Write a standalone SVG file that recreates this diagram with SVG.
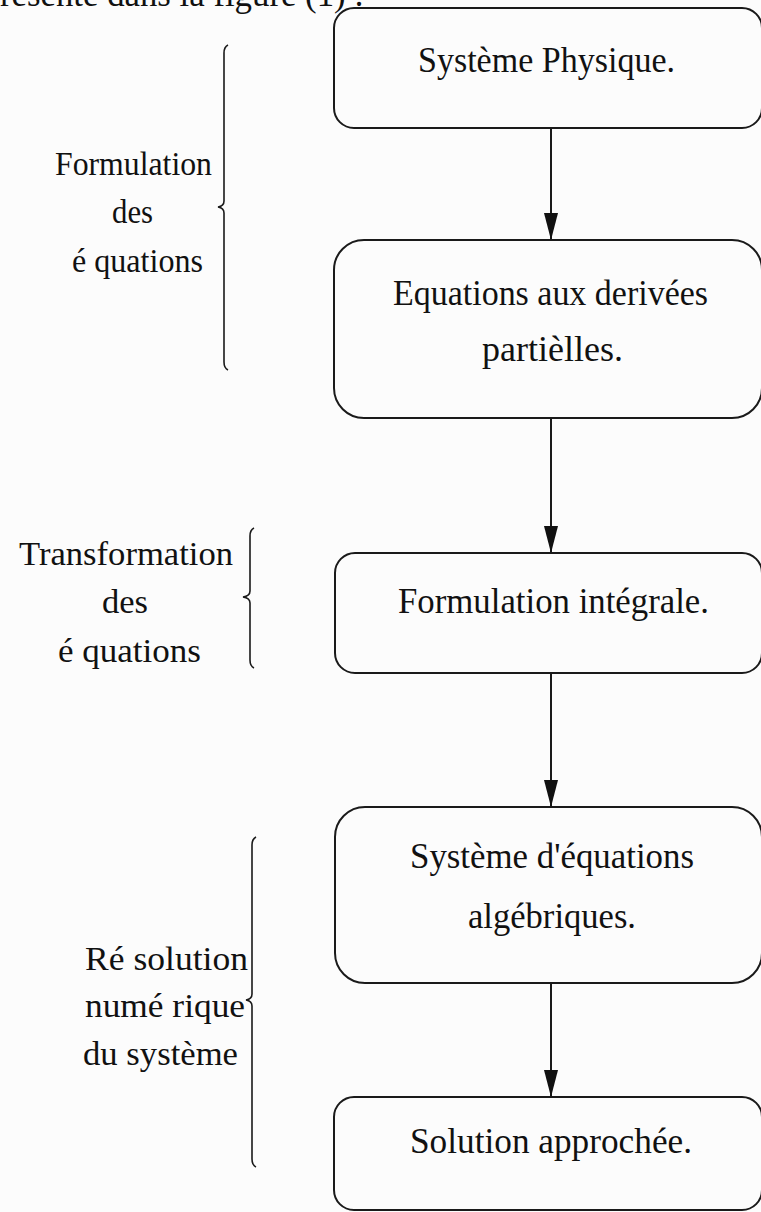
<svg xmlns="http://www.w3.org/2000/svg" width="761" height="1212" viewBox="0 0 761 1212">
  <defs>
    <style>
      .box { fill: none; stroke: #1a1a1a; stroke-width: 2; }
      .conn { fill: none; stroke: #1a1a1a; stroke-width: 2; }
      .brace { fill: none; stroke: #1a1a1a; stroke-width: 1.6; }
      .t { font-family: "Liberation Serif", "Times New Roman", serif; font-size: 36px; fill: #111; }
      .l { font-family: "Liberation Serif", "Times New Roman", serif; font-size: 33px; fill: #111; }
    </style>
    <marker id="arrow" markerUnits="userSpaceOnUse" markerWidth="28" markerHeight="16" viewBox="0 0 28 16" refX="27" refY="8" orient="auto">
      <path d="M0,1 L27,8 L0,15 Z" fill="#111"/>
    </marker>
  </defs>
  <rect x="0" y="0" width="761" height="1212" fill="#fcfcfc"/>

  <text id="top-text" class="t" x="0" y="6" textLength="364" lengthAdjust="spacingAndGlyphs">résente dans la figure (1) :</text>

  <g id="node-systeme-physique">
    <rect class="box" x="334" y="8" width="428" height="120" rx="20" ry="20"/>
    <text class="t" x="418" y="72" textLength="257" lengthAdjust="spacingAndGlyphs">Système Physique.</text>
  </g>

  <g id="node-edp">
    <rect class="box" x="334" y="240" width="428" height="178" rx="30" ry="30"/>
    <text class="t" x="393" y="305" textLength="315" lengthAdjust="spacingAndGlyphs">Equations aux derivées</text>
    <text class="t" x="482" y="361" textLength="141" lengthAdjust="spacingAndGlyphs">partièlles.</text>
  </g>

  <g id="node-formulation-integrale">
    <rect class="box" x="335" y="553" width="427" height="120" rx="20" ry="20"/>
    <text class="t" x="398" y="613" textLength="311" lengthAdjust="spacingAndGlyphs">Formulation intégrale.</text>
  </g>

  <g id="node-systeme-algebrique">
    <rect class="box" x="335" y="807" width="427" height="176" rx="30" ry="30"/>
    <text class="t" x="410" y="868" textLength="284" lengthAdjust="spacingAndGlyphs">Système d'équations</text>
    <text class="t" x="468" y="928" textLength="168" lengthAdjust="spacingAndGlyphs">algébriques.</text>
  </g>

  <g id="node-solution-approchee">
    <rect class="box" x="334" y="1097" width="428" height="113" rx="20" ry="20"/>
    <text class="t" x="410" y="1153" textLength="282" lengthAdjust="spacingAndGlyphs">Solution approchée.</text>
  </g>

  <g id="connectors">
    <line class="conn" x1="551" y1="128" x2="551" y2="240" marker-end="url(#arrow)"/>
    <line class="conn" x1="551" y1="418" x2="551" y2="553" marker-end="url(#arrow)"/>
    <line class="conn" x1="551" y1="673" x2="551" y2="807" marker-end="url(#arrow)"/>
    <line class="conn" x1="551" y1="983" x2="551" y2="1097" marker-end="url(#arrow)"/>
  </g>

  <g id="label-formulation">
    <path class="brace" d="M228,45 Q224,47 224,53 L224,201 Q224,206 218,207 Q224,208 224,213 L224,362 Q224,368 228,370"/>
    <text class="l" x="55" y="175" textLength="157" lengthAdjust="spacingAndGlyphs">Formulation</text>
    <text class="l" x="112" y="223" textLength="41" lengthAdjust="spacingAndGlyphs">des</text>
    <text class="l" x="72" y="272" textLength="131" lengthAdjust="spacingAndGlyphs">é quations</text>
  </g>

  <g id="label-transformation">
    <path class="brace" d="M254,528 Q250,530 250,536 L250,591 Q250,596 243,597 Q250,598 250,603 L250,660 Q250,666 254,668"/>
    <text class="l" x="19" y="565" textLength="214" lengthAdjust="spacingAndGlyphs">Transformation</text>
    <text class="l" x="102" y="613" textLength="46" lengthAdjust="spacingAndGlyphs">des</text>
    <text class="l" x="58" y="662" textLength="143" lengthAdjust="spacingAndGlyphs">é quations</text>
  </g>

  <g id="label-resolution">
    <path class="brace" d="M256,837 Q252,839 252,845 L252,994 Q252,999 246,1000 Q252,1001 252,1006 L252,1159 Q252,1165 256,1167"/>
    <text class="l" x="85" y="970" textLength="163" lengthAdjust="spacingAndGlyphs">Ré solution</text>
    <text class="l" x="85" y="1017" textLength="160" lengthAdjust="spacingAndGlyphs">numé rique</text>
    <text class="l" x="83" y="1065" textLength="155" lengthAdjust="spacingAndGlyphs">du système</text>
  </g>
</svg>
